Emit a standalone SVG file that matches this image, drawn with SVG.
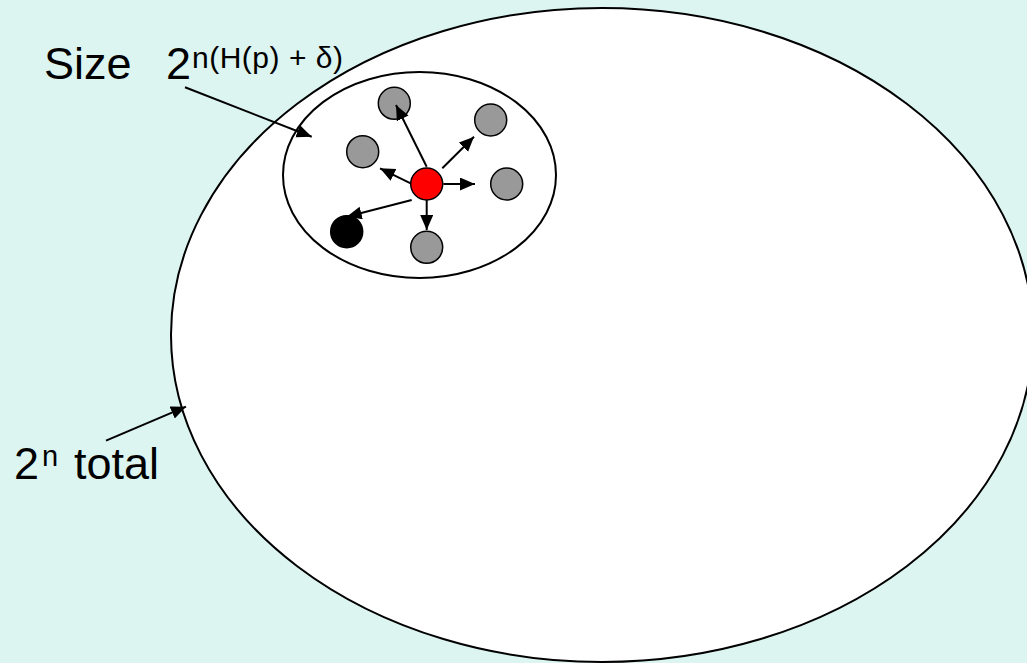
<svg xmlns="http://www.w3.org/2000/svg" width="1027" height="663" viewBox="0 0 1027 663">
<defs>
<marker id="ah" markerUnits="userSpaceOnUse" markerWidth="16" markerHeight="14" refX="15" refY="6.5" orient="auto">
<path d="M0,0 L15,6.5 L0,13 Z" fill="#000"/>
</marker>
<style>
.ell{fill:#fff;stroke:#000;stroke-width:2}
.dot{fill:#999;stroke:#000;stroke-width:1.5}
.con line{stroke:#000;stroke-width:2;marker-end:url(#ah)}
.lbl{font-family:"Liberation Sans",Arial,sans-serif;fill:#000}
</style>
</defs>
<rect width="1027" height="663" fill="#DCF5F1"/>
<g id="outer"><ellipse class="ell" cx="602" cy="335" rx="431" ry="327"/></g>
<g id="inner"><ellipse class="ell" cx="419.5" cy="175" rx="136.5" ry="103"/></g>
<g id="n-top"><circle class="dot" cx="394.3" cy="103.3" r="16"/></g>
<g id="n-topright"><circle class="dot" cx="490.7" cy="120" r="16"/></g>
<g id="n-left"><circle class="dot" cx="362.7" cy="151.7" r="16"/></g>
<g id="n-right"><circle class="dot" cx="506.7" cy="184" r="16"/></g>
<g id="n-bottom"><circle class="dot" cx="426.7" cy="247.3" r="16"/></g>
<g id="n-black"><circle cx="346.7" cy="231.7" r="16" fill="#000" stroke="#000" stroke-width="1.5"/></g>
<g id="n-center"><circle cx="426.7" cy="184" r="16" fill="#f00" stroke="#000" stroke-width="1.5"/></g>
<g id="connectors" class="con">
<line x1="426.7" y1="166.7" x2="396" y2="105"/>
<line x1="442.3" y1="168.3" x2="474" y2="136.7"/>
<line x1="410.7" y1="183.3" x2="380" y2="168.3"/>
<line x1="443.3" y1="184" x2="475" y2="184"/>
<line x1="426.7" y1="200" x2="426.7" y2="230"/>
<line x1="411.7" y1="200" x2="346.7" y2="216.7"/>
<line x1="185" y1="87.3" x2="311.7" y2="136.7"/>
<line x1="106" y1="440.7" x2="186" y2="406.7"/>
</g>
<g id="label-size">
<text class="lbl" font-size="45"><tspan x="44" y="79">Size</tspan><tspan x="166" y="79">2</tspan><tspan x="192" y="68" font-size="30" textLength="151" lengthAdjust="spacing">n(H(p) + δ)</tspan></text>
</g>
<g id="label-total">
<text class="lbl" font-size="45"><tspan x="14" y="479">2</tspan><tspan x="42" y="466" font-size="29">n</tspan><tspan x="74" y="479">total</tspan></text>
</g>
</svg>
